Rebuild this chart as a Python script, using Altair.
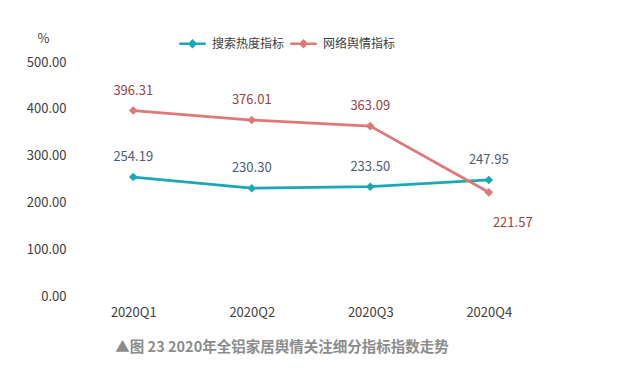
import altair as alt
import pandas as pd

quarters = ["2020Q1", "2020Q2", "2020Q3", "2020Q4"]
series_names = ["搜索热度指标", "网络舆情指标"]
search_values = [254.19, 230.30, 233.50, 247.95]
network_values = [396.31, 376.01, 363.09, 221.57]

rows = []
for q, v in zip(quarters, search_values):
    rows.append({"quarter": q, "series": series_names[0], "value": v})
for q, v in zip(quarters, network_values):
    rows.append({"quarter": q, "series": series_names[1], "value": v})
df = pd.DataFrame(rows)

line_colors = ["#19A9B6", "#E07878"]
label_colors = ["#4A5D7A", "#9A4246"]
FONT = "Noto Sans CJK SC"

x = alt.X("quarter:N", sort=quarters, title=None,
          scale=alt.Scale(type="point", padding=0.5),
          axis=alt.Axis(labelAngle=0, domain=False, ticks=False, labelPadding=10,
                        labelFontSize=13, labelColor="#404040", labelFont=FONT))
y = alt.Y("value:Q", title="%",
          scale=alt.Scale(domain=[0, 500]),
          axis=alt.Axis(values=[0, 100, 200, 300, 400, 500], format=".2f", grid=False,
                        domain=False, ticks=False, labelPadding=8, labelFontSize=13,
                        labelColor="#404040", labelFont=FONT,
                        titleAngle=0, titleX=-31, titleY=-24, titleAlign="center",
                        titleBaseline="middle", titleFontSize=13, titleFontWeight="normal",
                        titleColor="#404040", titleFont=FONT))

legend = alt.Legend(title=None, orient="none", legendX=104, legendY=-33, direction="horizontal",
                    symbolType="M-1,0H-0.3M0.3,0H1M-0.22,0L0,-0.22L0.22,0L0,0.22Z",
                    symbolSize=700, symbolStrokeWidth=2.5, labelFontSize=12,
                    labelColor="#404040", labelFont=FONT, columnPadding=0, labelOffset=5)

base = alt.Chart(df)

lines = base.mark_line(strokeWidth=2.8).encode(
    x=x, y=y,
    stroke=alt.Stroke("series:N", scale=alt.Scale(domain=series_names, range=line_colors),
                      legend=legend),
)
points = base.mark_point(shape="diamond", filled=True, size=75, opacity=1).encode(
    x=x, y=y,
    fill=alt.Fill("series:N", scale=alt.Scale(domain=series_names, range=line_colors),
                  legend=legend),
)
labels_main = base.transform_filter(
    "!(datum.series == '网络舆情指标' && datum.quarter == '2020Q4')"
).mark_text(dy=-20, fontSize=13, font=FONT).encode(
    x=x, y=y,
    text=alt.Text("value:Q", format=".2f"),
    color=alt.Color("series:N", scale=alt.Scale(domain=series_names, range=label_colors),
                    legend=None),
)
labels_low = base.transform_filter(
    "datum.series == '网络舆情指标' && datum.quarter == '2020Q4'"
).mark_text(dx=24, dy=31, fontSize=13, font=FONT).encode(
    x=x, y=y,
    text=alt.Text("value:Q", format=".2f"),
    color=alt.Color("series:N", scale=alt.Scale(domain=series_names, range=label_colors),
                    legend=None),
)

chart = alt.layer(lines, points, labels_main, labels_low).properties(
    width=474, height=234,
    autosize=alt.AutoSizeParams(type="none"),
    padding={"left": 74, "top": 62, "right": 88, "bottom": 81},
    background="white",
    title=alt.TitleParams("▲图 23 2020年全铝家居舆情关注细分指标指数走势", orient="bottom",
                          anchor="middle", dx=-29, offset=22, fontSize=14.5, fontWeight="bold",
                          color="#8C8C8C", font=FONT),
).configure_view(stroke=None)

chart.save("out.html", embed_options={"renderer": "svg", "actions": False})
